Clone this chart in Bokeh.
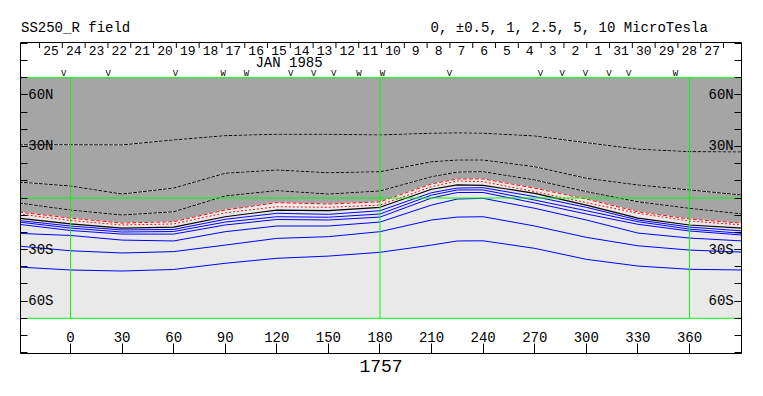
from bokeh.plotting import figure
from bokeh.models import LinearAxis, FixedTicker, Range1d, Span
from bokeh.embed import file_html
from bokeh.resources import INLINE
from bokeh.core.properties import value

# ---------------- data ----------------
lon = [-30, 0, 30, 60, 90, 120, 150, 180, 210, 225, 240, 270, 300, 330, 360, 391]

# positive-field contours (dark region), top to bottom
dash_1 = [31.0, 31.0, 30.9, 33.8, 36.3, 37.1, 37.1, 36.7, 37.7, 37.9, 37.7, 36.1, 32.2, 28.4, 27.0, 26.8]
dash_2 = [9.3, 7.0, 2.3, 5.8, 14.4, 16.3, 14.7, 15.3, 21.1, 22.1, 22.1, 18.2, 11.5, 7.6, 4.7, 1.7]
dash_3 = [-2.9, -7.0, -9.9, -8.0, 1.2, 4.3, 2.3, 4.1, 12.4, 15.1, 15.3, 10.5, 3.7, -2.2, -6.0, -9.3]
red_1 = [-8.2, -11.7, -14.6, -13.8, -7.0, -2.7, -3.5, -2.2, 8.2, 11.1, 11.1, 5.7, -0.6, -8.0, -12.2, -14.7]
red_2 = [-9.3, -13.1, -15.7, -15.1, -8.6, -5.1, -5.4, -4.1, 6.6, 9.9, 9.5, 3.7, -2.7, -8.9, -13.4, -15.7]
# neutral line
neutral = [-11.8, -15.1, -17.5, -16.9, -10.9, -7.0, -7.4, -5.4, 5.1, 7.6, 7.4, 2.7, -4.1, -11.7, -15.7, -17.6]
# negative-field contours (light region)
blue_1 = [-13.1, -16.3, -18.6, -18.3, -12.4, -8.9, -9.5, -7.4, 3.1, 5.8, 6.0, 0.8, -5.4, -12.8, -16.9, -19.2]
blue_2 = [-14.0, -17.5, -19.8, -19.5, -14.0, -10.9, -11.2, -9.3, 1.7, 4.7, 4.7, -1.2, -7.4, -13.8, -18.1, -20.6]
blue_3 = [-15.3, -18.9, -21.0, -21.0, -15.7, -12.5, -12.8, -11.1, 0.0, 3.2, 3.2, -2.9, -9.3, -15.3, -19.2, -21.6]
blue_4 = [-20.6, -21.8, -24.5, -25.0, -19.6, -16.3, -16.3, -14.0, -4.1, -0.6, -0.2, -6.0, -12.8, -20.4, -23.3, -25.0]
blue_5 = [-28.0, -30.7, -32.0, -31.2, -27.4, -23.5, -22.5, -19.6, -12.8, -11.1, -10.9, -16.3, -22.9, -27.8, -30.3, -31.5]
blue_6 = [-40.2, -41.9, -42.5, -41.6, -38.0, -35.1, -33.8, -31.6, -27.4, -25.0, -24.9, -29.3, -35.7, -39.6, -41.5, -41.9]

lon_ticks = [0, 30, 60, 90, 120, 150, 180, 210, 240, 270, 300, 330, 360]
lat_ticks = [-60, -30, 30, 60]
lat_tick_labels = {-60: "60S", -30: "30S", 30: "30N", 60: "60N"}
lat_minor = [-90, -80, -70, -60, -50, -40, -30, -20, -10, 0, 10, 20, 30, 40, 50, 60, 70, 80, 90]

day_labels = ["25", "24", "23", "22", "21", "20", "19", "18", "17", "16", "15", "14", "13", "12",
              "11", "10", "9", "8", "7", "6", "5", "4", "3", "2", "1", "31", "30", "29", "28", "27"]
first_day_edge = -18.0   # longitude of first day separator
day_width = 13.26        # degrees per day

mark_lons = [-3.9, 21.9, 61.1, 88.8, 102.4, 128.0, 141.5, 153.1, 167.7, 181.5, 220.4, 273.3,
             286.0, 299.5, 313.1, 324.7, 351.9]
mark_kinds = ["V", "V", "V", "W", "W", "V", "V", "V", "W", "W", "V", "V", "V", "V", "V", "V", "W"]

green_lons = [0, 180, 360]
green_lats = [70, 0, -70]
green_lat_start = [-25, -30, -25]

title_left = "SS250_R field"
title_right = "0, \u00b10.5, 1, 2.5, 5, 10 MicroTesla"
rotation = "1757"

FONT = "Liberation Mono"
DARK = "#a5a5a5"
LIGHT = "#e9e9e9"
GREEN = "#00ff00"

LAT_TOP = 90.5     # top edge of the map box
X0, X1 = -29.08, 390.25

# ---------------- figure ----------------
p = figure(width=755, height=390, x_range=Range1d(X0, X1), y_range=Range1d(-90.5, 106.8),
           output_backend="svg", toolbar_location=None, x_axis_location=None, y_axis_location=None,
           min_border_left=20, min_border_right=14, min_border_top=14, min_border_bottom=37,
           background_fill_color="white", border_fill_color="white", outline_line_color=None)
p.xgrid.visible = False
p.ygrid.visible = False

# polarity shading
p.varea(x=lon, y1=red_1, y2=70, fill_color=DARK)
p.varea(x=lon, y1=-70, y2=red_1, fill_color=LIGHT)

# contours
for ys in (dash_1, dash_2, dash_3):
    p.line(lon, ys, line_color="white", line_width=1)
    p.line(lon, ys, line_color="black", line_width=1, line_dash="4 1")
p.line(lon, red_1, line_color="white", line_width=1)
p.line(lon, red_1, line_color="red", line_width=1, line_dash="4 2")
p.line(lon, red_2, line_color="white", line_width=1)
p.line(lon, red_2, line_color="red", line_width=1, line_dash="2 2")
p.line(lon, neutral, line_color="black", line_width=1.2)
for ys in (blue_1, blue_2, blue_3, blue_4, blue_5, blue_6):
    p.line(lon, ys, line_color="blue", line_width=1)

# green reference lines
p.segment(x0=green_lons, y0=-70, x1=green_lons, y1=70, line_color=GREEN, line_width=1)
p.segment(x0=green_lat_start, y0=green_lats, x1=391, y1=green_lats, line_color=GREEN, line_width=1)

# top edge of the map box
p.add_layout(Span(location=LAT_TOP, dimension="width", line_color="black", line_width=1))

# day separators and labels along the top
n_days = len(day_labels)
sep_lons = [first_day_edge + day_width * k for k in range(n_days + 1)]
day_lons = [first_day_edge + day_width * (k + 0.5) for k in range(n_days)]
p.segment(x0=sep_lons, y0=LAT_TOP, x1=sep_lons, y1=87.3, line_color="black", line_width=1)
p.text(x=day_lons, y=86.0, text=day_labels, text_font=value(FONT), text_font_size="13px",
       text_align="center", text_baseline="middle", text_color="black")
p.text(x=[127.1], y=[78.6], text=["JAN 1985"], text_font=value(FONT), text_font_size="14px",
       text_align="center", text_baseline="middle", text_color="black")
p.text(x=mark_lons, y=72.4, text=mark_kinds, text_font=value(FONT), text_font_size="9px",
       text_align="center", text_baseline="middle", text_color="black")

# title row (above the map box)
p.text(x=[X0 + 0.3], y=[98.9], text=[title_left], text_font=value(FONT), text_font_size="14px",
       text_align="left", text_baseline="middle", text_color="black")
p.text(x=[209.4], y=[98.9], text=[title_right], text_font=value(FONT), text_font_size="14px",
       text_align="left", text_baseline="middle", text_color="black")

# axes
def lat_axis():
    ax = LinearAxis(ticker=FixedTicker(ticks=lat_ticks, minor_ticks=lat_minor),
                    major_label_overrides=lat_tick_labels, bounds=(-90.5, LAT_TOP))
    ax.major_tick_in = 7
    ax.major_tick_out = 0
    ax.minor_tick_in = 7
    ax.minor_tick_out = 0
    ax.major_label_standoff = -33
    ax.major_label_text_font = FONT
    ax.major_label_text_font_size = "14px"
    ax.major_label_text_color = "black"
    ax.axis_line_color = "black"
    return ax

p.add_layout(lat_axis(), "left")
p.add_layout(lat_axis(), "right")

bottom = LinearAxis(ticker=FixedTicker(ticks=lon_ticks, minor_ticks=[]))
bottom.major_tick_in = 10
bottom.major_tick_out = 0
bottom.minor_tick_in = 0
bottom.minor_tick_out = 0
bottom.major_label_standoff = -22
bottom.major_label_text_font = FONT
bottom.major_label_text_font_size = "14px"
bottom.major_label_text_color = "black"
bottom.axis_line_color = "black"
bottom.axis_label = rotation
bottom.axis_label_text_font = FONT
bottom.axis_label_text_font_size = "18px"
bottom.axis_label_text_font_style = "normal"
bottom.axis_label_text_color = "black"
bottom.axis_label_standoff = 15
p.add_layout(bottom, "below")

open("out.html", "w").write(file_html(p, INLINE))
